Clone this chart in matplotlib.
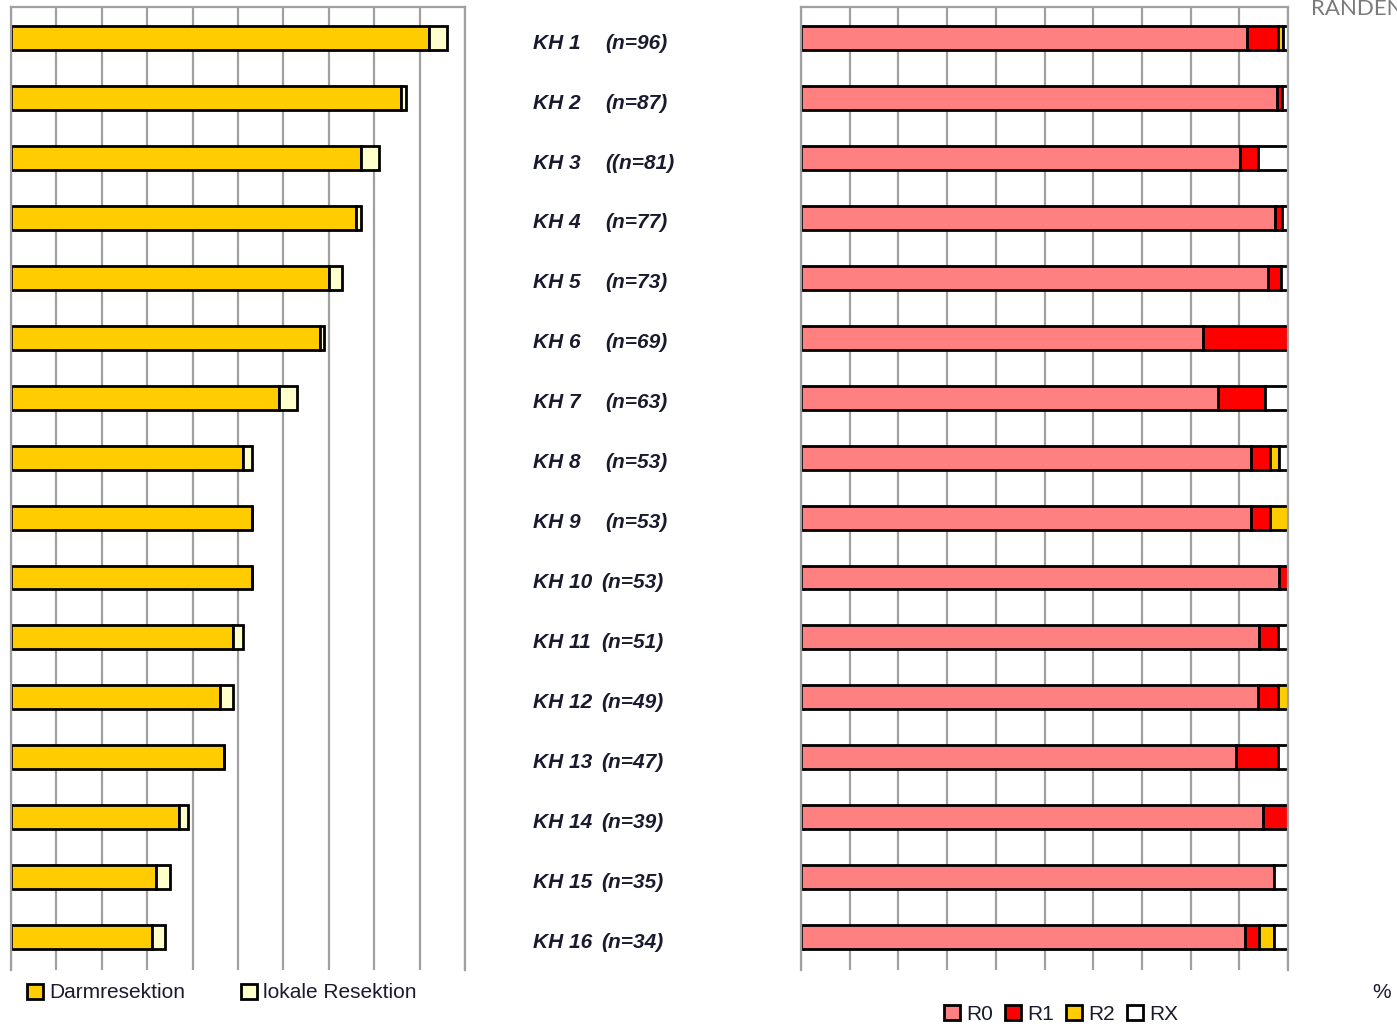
import numpy as np
import matplotlib.pyplot as plt
from matplotlib.patches import Patch

# Krankenhaeuser (KH 1 .. KH 16) and number of cases
hospitals = [f"KH {i}" for i in range(1, 17)]
n_cases = [96, 87, 81, 77, 73, 69, 63, 53, 53, 53, 51, 49, 47, 39, 35, 34]
n_labels = [f"(n={n})" for n in n_cases]
n_labels[2] = "((n=81)"

# left panel: type of resection (counts)
darmresektion = [92, 86, 77, 76, 70, 68, 59, 51, 53, 53, 49, 46, 47, 37, 32, 31]
lokale_resektion = [4, 1, 4, 1, 3, 1, 4, 2, 0, 0, 2, 3, 0, 2, 3, 3]

# right panel: resection margin (counts, shown as %)
r0 = [88, 85, 73, 75, 70, 57, 54, 49, 49, 52, 48, 46, 42, 37, 34, 31]
r1 = [6, 1, 3, 1, 2, 12, 6, 2, 2, 1, 2, 2, 4, 2, 0, 1]
r2 = [1, 0, 0, 0, 0, 0, 0, 1, 2, 0, 0, 1, 0, 0, 0, 1]
rx = [1, 1, 5, 1, 1, 0, 3, 1, 0, 0, 1, 0, 1, 0, 1, 1]

c_darm, c_lokal = "#FFCC00", "#FFFFCC"
c_r0, c_r1, c_r2, c_rx = "#FF8080", "#FF0000", "#FFCC00", "#FFFFFF"
grid_c = "#a0a0a0"
text_c = "#1a1a2e"

plt.rcParams["font.family"] = ["Liberation Sans", "DejaVu Sans"]

fig = plt.figure(figsize=(13.97, 10.24), dpi=100)
W, H = 1397, 1024


def px_axes(x0, x1, y0, y1):
    return fig.add_axes([x0 / W, 1 - y1 / H, (x1 - x0) / W, (y1 - y0) / H])


def style_axes(ax):
    ax.set_xlim(0, 100)
    ax.set_ylim(15.55, -0.52)
    ax.set_xticks(np.arange(0, 101, 10))
    ax.set_yticks([])
    ax.tick_params(length=0, labelbottom=False)
    ax.grid(axis="x", color=grid_c, lw=1.6)
    ax.set_axisbelow(True)
    for s in ["left", "top", "right"]:
        ax.spines[s].set_color(grid_c)
        ax.spines[s].set_linewidth(1.6)
    ax.spines["bottom"].set_visible(False)


y = np.arange(len(hospitals))
bar_kw = dict(height=0.4, edgecolor="black", linewidth=2)

# left panel
ax1 = px_axes(11, 465, 7, 970)
style_axes(ax1)
ax1.barh(y, darmresektion, color=c_darm, **bar_kw)
ax1.barh(y, lokale_resektion, left=darmresektion, color=c_lokal, **bar_kw)

# right panel (percent)
n = np.array(n_cases, dtype=float)
p0 = np.array(r0) / n * 100
p1 = np.array(r1) / n * 100
p2 = np.array(r2) / n * 100
px = np.array(rx) / n * 100
ax2 = px_axes(801, 1288, 7, 970)
style_axes(ax2)
ax2.barh(y, p0, color=c_r0, **bar_kw)
ax2.barh(y, p1, left=p0, color=c_r1, **bar_kw)
ax2.barh(y, p2, left=p0 + p1, color=c_r2, **bar_kw)
ax2.barh(y, px, left=p0 + p1 + p2, color=c_rx, **bar_kw)

# hospital labels in the middle (sit a few px below the bar centre)
for i, (h, nl) in enumerate(zip(hospitals, n_labels)):
    yy = (ax1.transData.transform((0, i))[1] - 5) / H
    fig.text(533 / W, yy, h, ha="left", va="center", fontsize=15,
             fontweight="bold", fontstyle="italic", color=text_c)
    xn = 605 if i < 9 else 601
    fig.text(xn / W, yy, nl, ha="left", va="center", fontsize=15,
             fontweight="bold", fontstyle="italic", color=text_c)

# legends
sq = dict(edgecolor="black", linewidth=2)
fig.legend([Patch(facecolor=c_darm, **sq), Patch(facecolor=c_lokal, **sq)],
           ["Darmresektion", "lokale Resektion"],
           loc="center left", bbox_to_anchor=(27 / W, 1 - 993 / H), ncol=2,
           frameon=False, fontsize=15, handlelength=0.75, handleheight=0.75,
           handletextpad=0.3, columnspacing=2.7, labelcolor=text_c,
           borderpad=0, borderaxespad=0)
fig.legend([Patch(facecolor=c, **sq) for c in (c_r0, c_r1, c_r2, c_rx)],
           ["R0", "R1", "R2", "RX"],
           loc="center left", bbox_to_anchor=(944 / W, 1 - 1014 / H), ncol=4,
           frameon=False, fontsize=15, handlelength=0.75, handleheight=0.75,
           handletextpad=0.3, columnspacing=0.6, labelcolor=text_c,
           borderpad=0, borderaxespad=0)

fig.text(1372 / W, 1 - 992 / H, "%", ha="left", va="center", fontsize=15,
         color=text_c)
# header text is cut off at the right edge in the original as well
fig.text(1311 / W, 1 - 9 / H, "RANDEN", ha="left", va="center", fontsize=16,
         color="#7a7a7a", family=["Lato", "DejaVu Sans"])

fig.savefig("out.png", dpi=100)
